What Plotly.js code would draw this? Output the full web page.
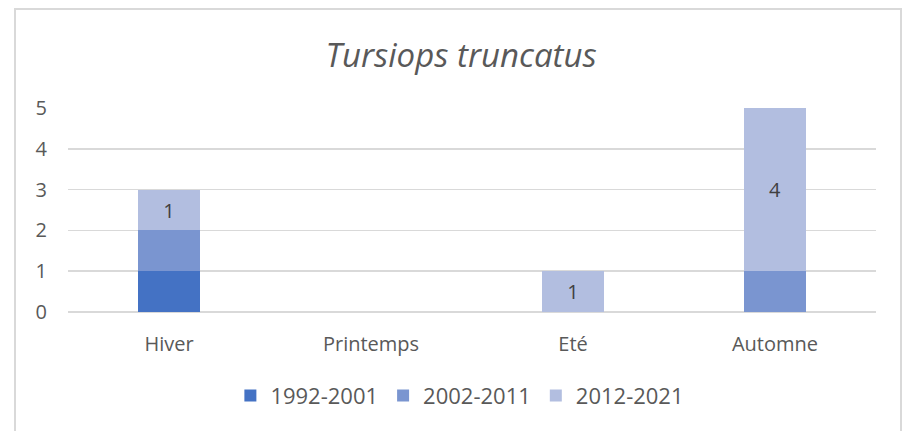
<!DOCTYPE html>
<html>
<head>
<meta charset="utf-8">
<script src="https://cdn.plot.ly/plotly-3.0.1.min.js"></script>
<style>
html,body{margin:0;padding:0;background:#fff;width:906px;height:431px;overflow:hidden;}
#frame{position:absolute;left:14px;top:8px;width:888px;height:440px;border:2px solid #d9d9d9;box-sizing:border-box;}
#chart{position:absolute;left:0;top:0;width:906px;height:431px;}
</style>
</head>
<body>
<div id="frame"></div>
<div id="chart"></div>
<script>
const categories = ["Hiver", "Printemps", "Eté", "Automne"];
const seriesNames = ["1992-2001", "2002-2011", "2012-2021"];
const s1992 = [1, 0, 0, 0];
const s2002 = [1, 0, 0, 1];
const s2012 = [1, 0, 1, 4];
const yTicks = [0, 1, 2, 3, 4, 5];

const colors = ["#4472C4", "#7A95D0", "#B2BEE0"];
const font = "Open Sans, Noto Sans, sans-serif";

function labelsFor(arr){ return arr.map(v => v > 0 ? String(v) : ""); }

const data = [
  {type:"bar", name:seriesNames[0], x:categories, y:s1992, marker:{color:colors[0]}, hoverinfo:"none"},
  {type:"bar", name:seriesNames[1], x:categories, y:s2002, marker:{color:colors[1]}, hoverinfo:"none"},
  {type:"bar", name:seriesNames[2], x:categories, y:s2012, marker:{color:colors[2]},
   text:labelsFor(s2012), textposition:"inside", insidetextanchor:"middle",
   textfont:{family:font, size:20, color:"#404040"}, hoverinfo:"none"}
];

const layout = {
  width:906, height:431,
  paper_bgcolor:"rgba(0,0,0,0)", plot_bgcolor:"rgba(0,0,0,0)",
  barmode:"stack", bargap:0.69,
  margin:{l:68, r:30, t:108, b:119},
  title:{text:"<i>Tursiops truncatus</i>", x:0.509, xanchor:"center", y:0.872, yanchor:"middle",
         font:{family:font, size:33, color:"#595959"}},
  xaxis:{showgrid:false, zeroline:false, showline:false, ticks:"",
         ticklabelstandoff:18,
         tickfont:{family:font, size:20, color:"#595959"}},
  yaxis:{range:[0,5], tickvals:yTicks, ticktext:yTicks.map(String), showgrid:true, gridcolor:"#d9d9d9", gridwidth:1.5,
         zeroline:true, zerolinecolor:"#d9d9d9", zerolinewidth:1.5, showline:false, ticks:"",
         ticklabelstandoff:20,
         tickfont:{family:font, size:20, color:"#595959"}},
  legend:{orientation:"h", x:0.485, xanchor:"center", y:-0.41, yanchor:"middle",
          font:{family:font, size:22, color:"#595959"}, traceorder:"normal", itemwidth:30},
  showlegend:true
};

Plotly.newPlot("chart", data, layout, {displayModeBar:false, staticPlot:true});
</script>
</body>
</html>
